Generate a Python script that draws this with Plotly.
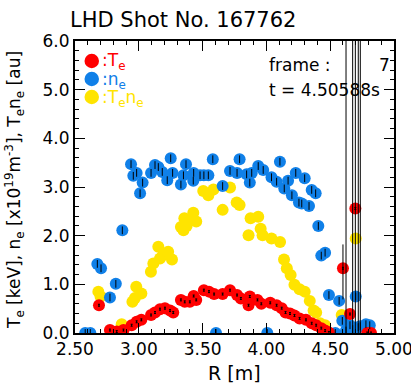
import plotly.graph_objects as go

# ---------------- data ----------------
te_r = [2.688, 2.774, 2.827, 2.88, 2.944, 2.983, 3.02, 3.096, 3.127, 3.166, 3.205, 3.245, 3.27,
        3.33, 3.36, 3.40, 3.43, 3.45, 3.51, 3.55, 3.59, 3.657, 3.715, 3.77, 3.80, 3.86, 3.87,
        3.93, 3.96, 4.03, 4.08, 4.12, 4.15, 4.185, 4.22, 4.26, 4.31, 4.355, 4.39, 4.43, 4.46,
        4.49, 4.60, 4.655, 4.697, 4.79, 4.82]
te_v = [0.57, 0.06, 0.03, 0.06, 0.16, 0.23, 0.27, 0.37, 0.42, 0.49, 0.51, 0.46, 0.42,
        0.68, 0.64, 0.64, 0.76, 0.68, 0.88, 0.85, 0.80, 0.80, 0.88, 0.78, 0.71, 0.57, 0.75,
        0.68, 0.60, 0.62, 0.57, 0.51, 0.42, 0.40, 0.36, 0.30, 0.27, 0.20, 0.16, 0.10, 0.05,
        0.01, 1.33, 0.39, 2.56, 0.0, 0.0]

ne_r = [2.58, 2.62, 2.675, 2.704, 2.774, 2.82, 2.871, 2.939, 2.957, 2.983, 3.01, 3.03, 3.096,
        3.127, 3.153, 3.184, 3.223, 3.25, 3.265, 3.33, 3.35, 3.37, 3.427, 3.43, 3.48, 3.51,
        3.545, 3.58, 3.605, 3.657, 3.715, 3.77, 3.79, 3.845, 3.87, 3.885, 3.936, 3.975, 4.007,
        4.04, 4.08, 4.106, 4.14, 4.17, 4.20, 4.23, 4.255, 4.277, 4.30, 4.334, 4.355, 4.386,
        4.407, 4.43, 4.46, 4.49, 4.54, 4.57, 4.595, 4.624, 4.655, 4.676, 4.70, 4.72, 4.736,
        4.78, 4.81]
ne_v = [0.0, 0.0, 1.42, 1.33, 0.73, 1.01, 2.11, 3.47, 3.23, 3.29, 2.87, 3.09, 3.29,
        3.45, 3.41, 3.31, 3.14, 3.59, 3.29, 3.05, 3.24, 3.47, 3.13, 3.29, 3.24, 3.24,
        3.24, 3.57, 0.0, 3.02, 3.33, 3.29, 3.57, 3.26, 3.09, 3.29, 3.43, 3.35, 0.0,
        3.20, 3.11, 3.52, 2.97, 3.13, 2.83, 3.29, 2.68, 2.66, 3.18, 2.61, 2.94, 2.87,
        2.20, 1.59, 1.65, 0.78, 0.0, 0.66, 0.25, 0.05, 0.16, 0.08, 0.75, 0.12, 0.14,
        0.18, 0.16]

tn_r = [2.683, 2.70, 2.866, 2.95, 2.97, 2.98, 3.02, 3.095, 3.114, 3.153, 3.166, 3.19, 3.23,
        3.26, 3.33, 3.35, 3.357, 3.375, 3.38, 3.427, 3.45, 3.505, 3.545, 3.585, 3.657, 3.715,
        3.767, 3.79, 3.86, 3.876, 3.936, 3.955, 3.97, 4.04, 4.107, 4.138, 4.16, 4.19, 4.22,
        4.26, 4.30, 4.34, 4.37, 4.39, 4.42, 4.46, 4.59, 4.70]
tn_v = [0.85, 0.75, 0.18, 0.64, 0.72, 0.95, 0.81, 1.26, 1.43, 1.77, 1.53, 1.60, 1.67,
        1.51, 2.18, 2.11, 2.36, 2.20, 2.32, 2.47, 2.29, 2.92, 2.83, 2.95, 2.53, 2.99,
        2.68, 2.63, 2.01, 2.36, 2.39, 2.14, 2.01, 1.94, 1.87, 1.51, 1.33, 1.19, 0.99,
        0.90, 0.85, 0.66, 0.46, 0.42, 0.20, 0.16, 0.37, 1.94]

# error bars: small ones on Te / ne, huge ones on the edge channels
ne_err = 0.08
te_err = 0.02
wide_r = [4.624, 4.676, 4.697, 4.72, 4.736]
wide_v = [0.05, 0.08, 2.56, 0.12, 0.14]
part_r = [4.60]
part_v = [1.33]
part_up = [0.49]
part_dn = [0.64]

x_ticks = [2.5, 3.0, 3.5, 4.0, 4.5, 5.0]
y_ticks = [0, 1, 2, 3, 4, 5, 6]

RED = "rgb(255,0,0)"
BLUE = "rgb(16,128,232)"
YEL = "rgb(255,228,0)"

# ---------------- geometry helpers ----------------
W, H = 411, 388
L, R, T, B = 75, 394, 41, 333


def px(x):
    return (x - L) / (R - L)


def py(y):
    return (B - y) / (B - T)


MS = 12
fig = go.Figure()
fig.add_trace(go.Scatter(x=tn_r, y=tn_v, mode="markers",
                         marker=dict(size=MS, color=YEL, line=dict(width=0))))
fig.add_trace(go.Scatter(x=ne_r, y=ne_v, mode="markers",
                         marker=dict(size=MS, color=BLUE, line=dict(width=0))))
fig.add_trace(go.Scatter(x=te_r, y=te_v, mode="markers",
                         marker=dict(size=MS, color=RED, line=dict(width=0))))
# error bar overlays
fig.add_trace(go.Scatter(x=ne_r, y=ne_v, mode="markers", marker=dict(size=1, opacity=0),
                         error_y=dict(type="constant", value=ne_err, color="black",
                                      thickness=1, width=0)))
fig.add_trace(go.Scatter(x=te_r, y=te_v, mode="markers", marker=dict(size=1, opacity=0),
                         error_y=dict(type="constant", value=te_err, color="black",
                                      thickness=1, width=1)))
fig.add_trace(go.Scatter(x=wide_r, y=wide_v, mode="markers", marker=dict(size=1, opacity=0),
                         error_y=dict(type="constant", value=20, color="black",
                                      thickness=1, width=0)))
fig.add_trace(go.Scatter(x=part_r, y=part_v, mode="markers", marker=dict(size=1, opacity=0),
                         error_y=dict(type="data", array=part_up, arrayminus=part_dn,
                                      color="black", thickness=1, width=0)))

FONT = "DejaVu Sans"
axis_common = dict(showline=True, linecolor="black", linewidth=2, mirror="ticks",
                   ticks="inside", tickcolor="black", tickwidth=1, ticklen=10,
                   showgrid=False, zeroline=False, automargin=False,
                   ticklabeloverflow="allow",
                   tickfont=dict(family=FONT, size=17, color="black"))
fig.update_xaxes(range=[2.5, 5.0], tickvals=x_ticks, tickformat=".2f",
                 minor=dict(dtick=0.1, ticks="inside", ticklen=4, tickcolor="black",
                            tickwidth=1, showgrid=False),
                 **axis_common)
fig.update_yaxes(range=[0, 6], tickvals=y_ticks, tickformat=".1f",
                 minor=dict(dtick=0.2, ticks="inside", ticklen=4, tickcolor="black",
                            tickwidth=1, showgrid=False),
                 **axis_common)

ann = []
ann.append(dict(text="LHD Shot No. 167762", x=px(68), y=py(20), xref="paper", yref="paper",
                xanchor="left", yanchor="middle", showarrow=False,
                font=dict(family=FONT, size=21, color="black")))
ann.append(dict(text="R [m]", x=px(234), y=py(373), xref="paper", yref="paper",
                xanchor="center", yanchor="middle", showarrow=False,
                font=dict(family=FONT, size=19, color="black")))
ann.append(dict(text="T<sub>e</sub> [keV], n<sub>e</sub> [x10<sup>19</sup>m<sup>-3</sup>], "
                     "T<sub>e</sub>n<sub>e</sub> [au]",
                x=px(15), y=py(190), xref="paper", yref="paper", textangle=-90,
                xanchor="center", yanchor="middle", showarrow=False,
                font=dict(family=FONT, size=17, color="black")))
ann.append(dict(text="frame :", x=px(267), y=py(65), xref="paper", yref="paper",
                xanchor="left", yanchor="middle", showarrow=False,
                font=dict(family=FONT, size=17, color="black")))
ann.append(dict(text="7", x=px(392), y=py(65), xref="paper", yref="paper",
                xanchor="right", yanchor="middle", showarrow=False,
                font=dict(family=FONT, size=17, color="black")))
ann.append(dict(text="t = 4.50588s", x=px(267), y=py(90), xref="paper", yref="paper",
                xanchor="left", yanchor="middle", showarrow=False,
                font=dict(family=FONT, size=17, color="black")))

legend_items = [(":T<sub>e</sub>", RED, 61), (":n<sub>e</sub>", BLUE, 79),
                (":T<sub>e</sub>n<sub>e</sub>", YEL, 97)]
shapes = []
for txt, col, yc in legend_items:
    shapes.append(dict(type="circle", xref="paper", yref="paper",
                       x0=px(84.5), x1=px(99), y0=py(yc + 7.2), y1=py(yc - 7.2),
                       fillcolor=col, line=dict(width=0), layer="above"))
    ann.append(dict(text=txt, x=px(100), y=py(yc + 1), xref="paper", yref="paper",
                    xanchor="left", yanchor="middle", showarrow=False,
                    font=dict(family=FONT, size=17, color=col)))

fig.update_layout(width=W, height=H, margin=dict(l=L, r=W - R, t=T, b=H - B),
                  plot_bgcolor="white", paper_bgcolor="white", showlegend=False,
                  annotations=ann, shapes=shapes)

fig.write_html("out.html", config={"displayModeBar": False},
               post_script="document.body.style.margin='0';"
                           "document.body.style.overflow='hidden';")
